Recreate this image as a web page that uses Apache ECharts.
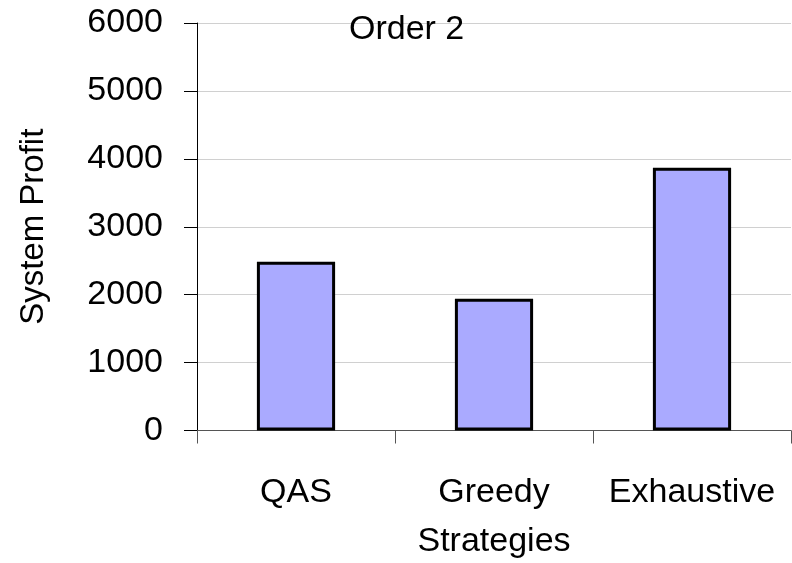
<!DOCTYPE html>
<html>
<head>
<meta charset="utf-8">
<script src="https://cdn.jsdelivr.net/npm/echarts@6/dist/echarts.min.js"></script>
<style>
  html, body { margin: 0; padding: 0; background: #fff; }
  #chart { width: 792px; height: 563px; }
</style>
</head>
<body>
<div id="chart"></div>
<script>
// data
var strategies = ["QAS", "Greedy", "Exhaustive"];
var profit = [2485, 1940, 3870];
var yTicks = { min: 0, max: 6000, interval: 1000 };

var font = "'Liberation Sans', Arial, sans-serif";

var myChart = echarts.init(document.getElementById("chart"));
var option = {
    backgroundColor: "#ffffff",
    animation: false,
    title: {
        text: "Order 2",
        left: 344,
        top: 8,
        textStyle: {
            fontFamily: font,
            fontSize: 34,
            fontWeight: "normal",
            color: "#000",
        },
    },
    grid: {
        left: 197,
        right: 1,
        top: 23,
        bottom: 132.5,
        containLabel: false,
        outerBoundsMode: "none",
    },
    xAxis: {
        type: "category",
        data: strategies,
        name: "Strategies",
        nameLocation: "middle",
        nameGap: 94,
        nameTextStyle: { fontFamily: font, fontSize: 34, color: "#000" },
        axisLine: { lineStyle: { color: "#555", width: 1 } },
        axisTick: { show: true, length: 13, lineStyle: { color: "#555" } },
        axisLabel: {
            margin: 45,
            fontFamily: font,
            fontSize: 34,
            color: "#000",
            interval: 0,
        },
    },
    yAxis: {
        type: "value",
        min: yTicks.min,
        max: yTicks.max,
        interval: yTicks.interval,
        name: "System Profit",
        nameLocation: "middle",
        nameGap: 147,
        nameTextStyle: { fontFamily: font, fontSize: 33, color: "#000" },
        axisLine: { show: true, lineStyle: { color: "#000", width: 1 } },
        axisTick: { show: true, length: 13, lineStyle: { color: "#000" } },
        axisLabel: {
            margin: 34,
            fontFamily: font,
            fontSize: 34,
            color: "#000",
            formatter: function (v) { return String(v); },
        },
        splitLine: { lineStyle: { color: "#d0d0d0", width: 1 } },
    },
    series: [
        {
            type: "bar",
            data: profit,
            barWidth: "39.5%",
            itemStyle: {
                color: "#aaaaff",
                borderColor: "#000",
                borderWidth: 3,
            },
        },
    ],
};

option && myChart.setOption(option);
</script>
</body>
</html>
